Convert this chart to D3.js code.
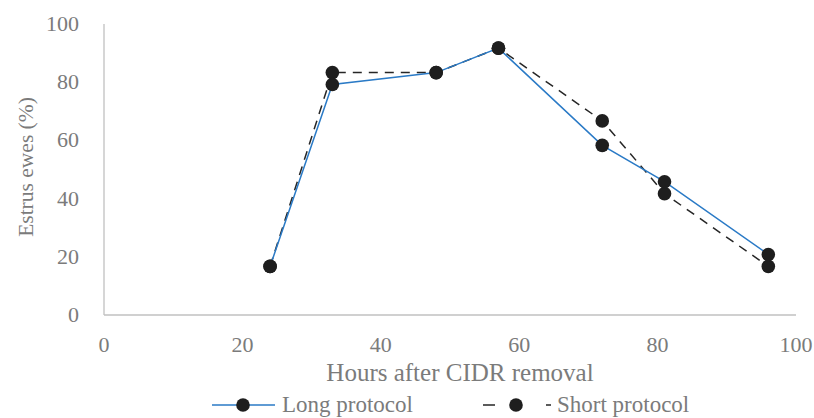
<!DOCTYPE html>
<html><head><meta charset="utf-8">
<script src="https://cdn.jsdelivr.net/npm/d3@7"></script>
</head><body style="margin:0;background:#fff"><svg id="c" width="814" height="418"></svg>
<script>
const hours = [24, 33, 48, 57, 72, 81, 96];
const longProtocol = [16.7, 79.2, 83.3, 91.7, 58.3, 45.8, 20.8];
const shortProtocol = [16.7, 83.3, 83.3, 91.7, 66.7, 41.7, 16.7];
const xTicks = [0, 20, 40, 60, 80, 100];
const yTicks = [0, 20, 40, 60, 80, 100];
const seriesNames = ["Long protocol", "Short protocol"];
const xTitle = "Hours after CIDR removal";
const yTitle = "Estrus ewes (%)";

const FONT = "Liberation Serif";
const TXT = "#7b7b7b";
const svg = d3.select("#c");
const x = d3.scaleLinear().domain([0, 100]).range([104, 796]);
const y = d3.scaleLinear().domain([0, 100]).range([315, 24]);

function txt(sel, size) {
  return sel.attr("font-family", FONT).attr("font-size", size).attr("fill", TXT);
}

// axes
svg.append("line").attr("x1", x(0)).attr("x2", x(0)).attr("y1", y(100)).attr("y2", y(0)).attr("stroke", "#c0c0c0").attr("stroke-width", 1.3);
svg.append("line").attr("x1", x(0)).attr("x2", x(100)).attr("y1", y(0)).attr("y2", y(0)).attr("stroke", "#c0c0c0").attr("stroke-width", 1.3);

txt(svg.selectAll(".yt").data(yTicks).enter().append("text"), 22)
  .attr("x", 79).attr("y", d => y(d) + 7).attr("text-anchor", "end").text(d => d);
txt(svg.selectAll(".xt").data(xTicks).enter().append("text"), 22)
  .attr("x", d => x(d)).attr("y", 352).attr("text-anchor", "middle").text(d => d);

txt(svg.append("text"), 25).attr("x", 460).attr("y", 381).attr("text-anchor", "middle").text(xTitle);
txt(svg.append("text"), 21.5).attr("transform", `translate(33,167) rotate(-90)`).attr("text-anchor", "middle").text(yTitle);

const line = d3.line().x(d => x(d[0])).y(d => y(d[1]));
const longData = hours.map((h, i) => [h, longProtocol[i]]);
const shortData = hours.map((h, i) => [h, shortProtocol[i]]);

svg.append("path").datum(shortData).attr("d", line).attr("fill", "none").attr("stroke", "#262626").attr("stroke-width", 1.5).attr("stroke-dasharray", "9,7");
svg.append("path").datum(longData).attr("d", line).attr("fill", "none").attr("stroke", "#2a7ac6").attr("stroke-width", 1.5);

svg.selectAll(".ms").data(shortData).enter().append("circle").attr("cx", d => x(d[0])).attr("cy", d => y(d[1])).attr("r", 6.8).attr("fill", "#1e1e1e");
svg.selectAll(".ml").data(longData).enter().append("circle").attr("cx", d => x(d[0])).attr("cy", d => y(d[1])).attr("r", 6.8).attr("fill", "#1e1e1e");

// legend
const ly = 405;
svg.append("line").attr("x1", 212).attr("x2", 275).attr("y1", ly).attr("y2", ly).attr("stroke", "#2a7ac6").attr("stroke-width", 1.5);
svg.append("circle").attr("cx", 243).attr("cy", ly).attr("r", 6.8).attr("fill", "#1e1e1e");
txt(svg.append("text"), 23).attr("x", 282).attr("y", ly + 7).text(seriesNames[0]);
svg.append("line").attr("x1", 483).attr("x2", 551).attr("y1", ly).attr("y2", ly).attr("stroke", "#262626").attr("stroke-width", 1.5).attr("stroke-dasharray", "12,51,5");
svg.append("circle").attr("cx", 516).attr("cy", ly).attr("r", 6.8).attr("fill", "#1e1e1e");
txt(svg.append("text"), 23).attr("x", 557).attr("y", ly + 7).text(seriesNames[1]);
</script></body></html>
